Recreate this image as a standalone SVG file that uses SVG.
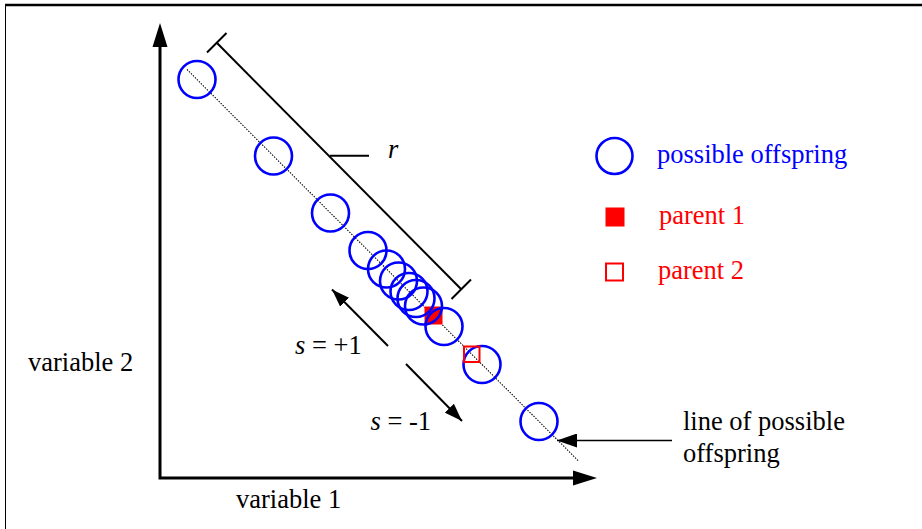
<svg xmlns="http://www.w3.org/2000/svg" width="922" height="529" viewBox="0 0 922 529">
<style>
text{font-family:"Liberation Serif","Times New Roman",serif;font-size:26.5px;fill:#000}
.blue{fill:#0000ff}
.red{fill:#ff0000}
.off{fill:none;stroke:#0000ff;stroke-width:2.6}
.ln{stroke:#000;stroke-width:2;fill:none}
.ax{stroke:#000;stroke-width:3;fill:none}
</style>
<defs>
<marker id="ah" viewBox="0 0 20 14" refX="20" refY="7" markerWidth="20" markerHeight="14" markerUnits="userSpaceOnUse" orient="auto">
<path d="M0,0 L20,7 L0,14 Z" fill="#000"/>
</marker>
<marker id="ahs" viewBox="0 0 20 14" refX="20" refY="7" markerWidth="18" markerHeight="13" markerUnits="userSpaceOnUse" orient="auto">
<path d="M0,0 L20,7 L0,14 Z" fill="#000"/>
</marker>
</defs>
<rect width="922" height="529" fill="#fff"/>
<g id="frame">
<line x1="5" y1="5" x2="922" y2="5" stroke="#000" stroke-width="2.5"/>
<line x1="5.5" y1="5" x2="5.5" y2="529" stroke="#000" stroke-width="1"/>
</g>
<g id="connectors">
<polyline class="ax" points="160,46 160,478 574,478"/>
<path d="M160,23 L167.5,47 L152.5,47 Z" fill="#000"/>
<path d="M597,478 L573,470.5 L573,485.5 Z" fill="#000"/>
<line x1="187" y1="69.5" x2="578" y2="460.5" stroke="#000" stroke-width="1.1" stroke-dasharray="1.4,1.4"/>
<line class="ln" x1="217" y1="43" x2="461" y2="289"/>
<line class="ln" x1="207" y1="52.5" x2="226.5" y2="33"/>
<line class="ln" x1="451.5" y1="299" x2="471" y2="279.5"/>
<line class="ln" x1="330" y1="155.7" x2="369" y2="155.7"/>
<line class="ln" x1="388" y1="346" x2="332" y2="289.5" marker-end="url(#ahs)"/>
<line class="ln" x1="406" y1="364" x2="462" y2="421" marker-end="url(#ahs)"/>
<line x1="672" y1="440.5" x2="557" y2="440.5" stroke="#000" stroke-width="1.5" marker-end="url(#ah)"/>
</g>
<g id="parent1">
<rect x="424.5" y="306.5" width="18" height="18" class="red"/>
</g>
<g id="offspring">
<circle class="off" cx="197" cy="79.5" r="18.5"/>
<circle class="off" cx="273.5" cy="156" r="18.5"/>
<circle class="off" cx="330.5" cy="213" r="18.5"/>
<circle class="off" cx="368" cy="250.5" r="18.5"/>
<circle class="off" cx="386.5" cy="269" r="18.5"/>
<circle class="off" cx="398.5" cy="281" r="18.5"/>
<circle class="off" cx="409" cy="291.5" r="18.5"/>
<circle class="off" cx="416" cy="298.5" r="18.5"/>
<circle class="off" cx="423.5" cy="306" r="18.5"/>
<circle class="off" cx="444" cy="326.5" r="18.5"/>
<circle class="off" cx="482" cy="364.5" r="18.5"/>
<circle class="off" cx="539" cy="421.5" r="18.5"/>
</g>
<g id="parent2">
<rect x="464" y="346.5" width="15.5" height="15.5" fill="none" stroke="#ff0000" stroke-width="2"/>
</g>
<g id="legend">
<circle class="off" cx="614.5" cy="156" r="18"/>
<text x="657" y="163" class="blue">possible offspring</text>
<rect x="605.5" y="207.5" width="19" height="19" class="red"/>
<text x="659" y="224" class="red">parent 1</text>
<rect x="606" y="263.5" width="17" height="17" fill="none" stroke="#ff0000" stroke-width="2"/>
<text x="658" y="278.5" class="red">parent 2</text>
</g>
<g id="labels">
<text x="388" y="157.5" font-style="italic">r</text>
<text x="28" y="370.5">variable 2</text>
<text x="236" y="507.5">variable 1</text>
<text x="295" y="353.5"><tspan font-style="italic">s</tspan> = +1</text>
<text x="370.5" y="429.5"><tspan font-style="italic">s</tspan> = -1</text>
<text x="683" y="430">line of possible</text>
<text x="683" y="462">offspring</text>
</g>
</svg>
